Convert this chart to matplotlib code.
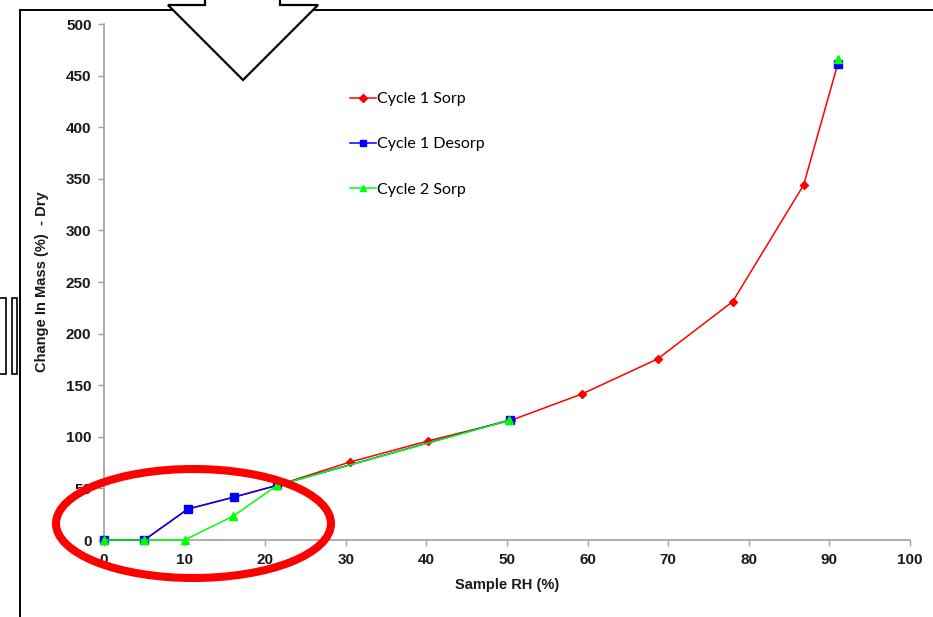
import matplotlib
matplotlib.use("Agg")
import matplotlib.pyplot as plt
from matplotlib.patches import Ellipse, Polygon, Rectangle
from matplotlib.lines import Line2D

nan = float("nan")

# data (nan = gap in the series)
c1_sorp_rh = [0, 5, 10.4, 16.1, 21.5, 30.5, 40.2, 50.5, 59.3, 68.7, 78.0, 86.8, 91.1]
c1_sorp_mass = [0, 0, 30, 41.5, 53, 75.5, 96, 116, 141.5, 175.5, 231, 344, 463]

c1_desorp_rh = [91.1, nan, 50.4, 21.5, 16.1, 10.4, 5, 0]
c1_desorp_mass = [461, nan, 116.5, 53, 41.5, 30, 0, 0]

c2_sorp_rh = [0, 5, 10, 16, 21.5, 50.3, nan, 91.1]
c2_sorp_mass = [0, 0, 0, 23, 53, 116, nan, 466]

x_ticks = list(range(0, 101, 10))
y_ticks = list(range(0, 501, 50))

plt.rcParams["font.family"] = ["Liberation Sans", "DejaVu Sans"]

W, H = 933, 617
fig = plt.figure(figsize=(W / 100, H / 100), dpi=100)
ax = fig.add_axes([104 / W, 1 - 540 / H, (910 - 104) / W, (540 - 24) / H])

ax.plot(c1_sorp_rh, c1_sorp_mass, color="#ff0000", lw=1.1, marker="D", ms=4,
        label="Cycle 1 Sorp", clip_on=False, zorder=3)
ax.plot(c1_desorp_rh, c1_desorp_mass, color="#0000ff", lw=1.1, marker="s", ms=6,
        label="Cycle 1 Desorp", clip_on=False, zorder=4)
ax.plot(c2_sorp_rh, c2_sorp_mass, color="#00ff00", lw=1.1, marker="^", ms=6,
        label="Cycle 2 Sorp", clip_on=False, zorder=5)

ax.set_xlim(0, 100)
ax.set_ylim(0, 500)
ax.set_xticks(x_ticks)
ax.set_yticks(y_ticks)
for s in ["top", "right"]:
    ax.spines[s].set_visible(False)
for s in ["left", "bottom"]:
    ax.spines[s].set_color("#a0a0a0")
    ax.spines[s].set_linewidth(1.2)
ax.tick_params(direction="out", length=4, width=1, color="#a0a0a0",
               labelsize=11, labelcolor="#1a1a1a", pad=5)
for lab in ax.get_xticklabels() + ax.get_yticklabels():
    lab.set_fontweight("bold")

ax.set_xlabel("Sample RH (%)", fontsize=10.5, fontweight="bold", color="#1a1a1a", labelpad=8)
ax.set_ylabel("Change In Mass (%)  - Dry", fontsize=10.5, fontweight="bold", color="#1a1a1a",
              labelpad=12)

leg = ax.legend(loc="upper left", bbox_to_anchor=(0.2895, 0.893), frameon=False,
                labelspacing=1.95, handlelength=1.6, handletextpad=0.1, borderpad=0.3,
                prop={"family": ["Lato", "DejaVu Sans"], "size": 11.5})
for h in leg.legend_handles:
    h.set_markersize(4.5)

# outer frame lines (top and left)
fig.add_artist(Line2D([20 / W, 1], [1 - 9.5 / H, 1 - 9.5 / H], color="black", lw=1.4,
                      transform=fig.transFigure))
fig.add_artist(Line2D([20 / W, 20 / W], [0, 1 - 9.5 / H], color="black", lw=1.4,
                      transform=fig.transFigure))

# down arrow at top
arrow_px = [(205, -10), (205, 5), (168, 5), (243, 80), (318, 5), (280, 5), (280, -10)]
fig.add_artist(Polygon([(x / W, 1 - y / H) for x, y in arrow_px], closed=True,
                       facecolor="white", edgecolor="black", lw=1.6,
                       transform=fig.transFigure, zorder=10))

# bracket shapes at left edge
fig.add_artist(Rectangle((-5 / W, 1 - 374 / H), 11 / W, 76 / H, facecolor="white",
                         edgecolor="black", lw=1.2, transform=fig.transFigure))
fig.add_artist(Rectangle((12 / W, 1 - 374 / H), 5 / W, 76 / H, facecolor="white",
                         edgecolor="black", lw=1.2, transform=fig.transFigure))

# red highlight ellipse
fig.add_artist(Ellipse((193.5 / W, 1 - 523.5 / H), 275 / W, 109 / H, facecolor="none",
                       edgecolor="#ff0000", lw=5.8, transform=fig.transFigure, zorder=11))

fig.savefig("out.png", dpi=100)
